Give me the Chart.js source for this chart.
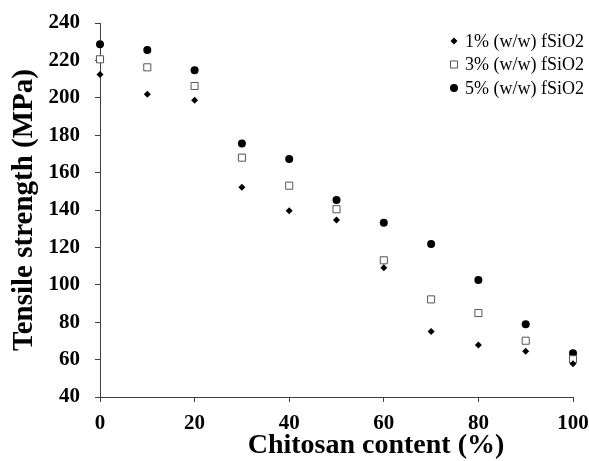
<!DOCTYPE html>
<html>
<head>
<meta charset="utf-8">
<script src="https://cdn.jsdelivr.net/npm/chart.js@4.4.1/dist/chart.umd.min.js"></script>
<style>
  body { margin: 0; background: #fff; }
  #wrap { width: 589px; height: 461px; }
</style>
</head>
<body>
<div id="wrap"><canvas id="tsChart" width="589" height="461"></canvas></div>
<script>
// chitosan content (%) and tensile strength (MPa) for each fSiO2 loading
var chitosan = [0, 10, 20, 30, 40, 50, 60, 70, 80, 90, 100];
var ts1 = [212.4, 201.9, 198.7, 152.1, 139.6, 134.7, 109.1, 75.0, 67.8, 64.4, 57.8];
var ts3 = [220.6, 216.3, 206.3, 168.0, 153.0, 140.4, 113.1, 92.2, 84.9, 70.1, 60.2];
var ts5 = [228.6, 225.6, 214.7, 175.5, 167.3, 145.3, 133.2, 121.8, 102.6, 78.9, 63.4];
var seriesNames = ['1% (w/w) fSiO2', '3% (w/w) fSiO2', '5% (w/w) fSiO2'];

var serif = '"Liberation Serif", "DejaVu Serif", serif';
var axisColor = '#404040';

function toPoints(ys) {
    return chitosan.map(function (x, i) { return { x: x, y: ys[i] }; });
}

// legend in the upper right corner, x axis title sits right of centre like the original
var extras = {
    id: 'extras',
    afterDraw: function (chart) {
        var ctx = chart.ctx;
        var area = chart.chartArea;
        ctx.save();
        ctx.font = '18px ' + serif;
        ctx.textBaseline = 'middle';
        chart.data.datasets.forEach(function (ds, i) {
            var x = area.right - 119;
            var y = area.top + 18 + i * 23.5;
            ctx.fillStyle = ds.pointBackgroundColor;
            ctx.strokeStyle = ds.pointBorderColor;
            ctx.lineWidth = ds.pointBorderWidth;
            Chart.helpers.drawPoint(ctx, {
                pointStyle: ds.pointStyle,
                radius: ds.pointRadius,
                rotation: 0,
                borderWidth: ds.pointBorderWidth
            }, x, y);
            ctx.fillStyle = '#000';
            ctx.fillText(ds.label, x + 11, y + 1);
        });

        ctx.font = 'bold 28px ' + serif;
        ctx.textAlign = 'center';
        ctx.fillStyle = '#000';
        ctx.fillText('Chitosan content (%)', area.left + 276, chart.height - 15);
        ctx.restore();
    }
};

var ctx = document.getElementById('tsChart');

var myChart = new Chart(ctx, {
    type: 'scatter',
    data: {
        datasets: [{
            label: seriesNames[0],
            data: toPoints(ts1),
            pointStyle: 'rectRot',
            pointRadius: 3.5,
            pointBackgroundColor: '#000',
            pointBorderColor: '#000',
            pointBorderWidth: 0,
            clip: false
        }, {
            label: seriesNames[1],
            data: toPoints(ts3),
            pointStyle: 'rect',
            pointRadius: 5,
            pointBackgroundColor: '#fff',
            pointBorderColor: '#555',
            pointBorderWidth: 1,
            clip: false
        }, {
            label: seriesNames[2],
            data: toPoints(ts5),
            pointStyle: 'circle',
            pointRadius: 4,
            pointBackgroundColor: '#000',
            pointBorderColor: '#000',
            pointBorderWidth: 0,
            clip: false
        }]
    },
    options: {
        responsive: false,
        animation: false,
        layout: {
            padding: { top: 23, right: 16, left: 0, bottom: 0 }
        },
        scales: {
            x: {
                type: 'linear',
                min: 0,
                max: 100,
                ticks: {
                    stepSize: 20,
                    color: '#000',
                    padding: 9,
                    font: { family: serif, size: 21, weight: 'bold' }
                },
                grid: {
                    drawOnChartArea: false,
                    tickLength: 5,
                    tickColor: axisColor
                },
                border: { color: axisColor, width: 1 },
                afterFit: function (scale) {
                    scale.height = 64;
                    scale.paddingLeft = 0;
                    scale.paddingRight = 0;
                }
            },
            y: {
                min: 40,
                max: 240,
                ticks: {
                    stepSize: 20,
                    color: '#000',
                    padding: 15,
                    font: { family: serif, size: 21, weight: 'bold' }
                },
                grid: {
                    drawOnChartArea: false,
                    tickLength: 5,
                    tickColor: axisColor
                },
                border: { color: axisColor, width: 1 },
                title: {
                    display: true,
                    text: 'Tensile strength (MPa)',
                    color: '#000',
                    padding: { top: 7, bottom: 0 },
                    font: { family: serif, size: 29, weight: 'bold' }
                },
                afterFit: function (scale) {
                    scale.width = 100;
                    scale.paddingTop = 0;
                    scale.paddingBottom = 0;
                }
            }
        },
        plugins: {
            legend: { display: false },
            tooltip: { enabled: false }
        }
    },
    plugins: [extras]
});
</script>
</body>
</html>
